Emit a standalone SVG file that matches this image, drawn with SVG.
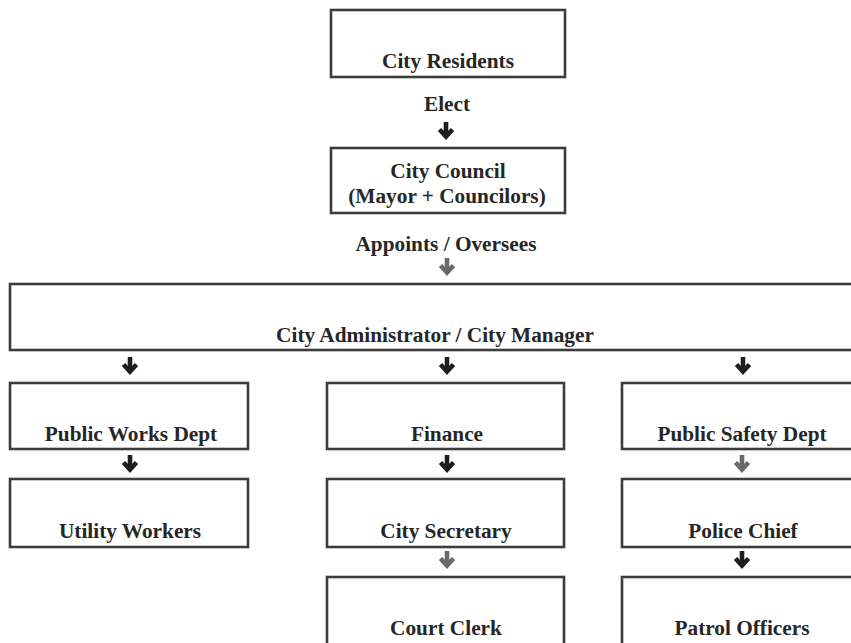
<svg xmlns="http://www.w3.org/2000/svg" xmlns:xlink="http://www.w3.org/1999/xlink" width="851" height="643" viewBox="0 0 851 643">
<style>
.box{fill:#fff;stroke:#3c3c3c;stroke-width:2.6}
.t{font-family:"Liberation Serif","Times New Roman",serif;font-weight:bold;font-size:21.3px;fill:#262626;text-anchor:middle}
.a{fill:none;stroke:#1e1e1e;stroke-width:4.6;stroke-linejoin:miter}
.g{stroke:#6a6a6a}
</style>
<defs>
<g id="arr"><path d="M0,-1 V13"/><path d="M-6.5,6.5 L0,13.5 L6.5,6.5"/></g>
</defs>
<rect width="851" height="643" fill="#fff"/>
<g id="residents"><rect class="box" x="331" y="10" width="234" height="67"/><text class="t" x="448" y="68">City Residents</text></g>
<g id="council"><rect class="box" x="331" y="148" width="234" height="65"/><text class="t" x="448" y="178">City Council</text><text class="t" x="447" y="203">(Mayor + Councilors)</text></g>
<g id="manager"><rect class="box" x="10" y="284" width="850" height="66"/><text class="t" x="435" y="342">City Administrator / City Manager</text></g>
<g id="publicworks"><rect class="box" x="10" y="383" width="238" height="66"/><text class="t" x="131" y="441">Public Works Dept</text></g>
<g id="finance"><rect class="box" x="327" y="383" width="237" height="66"/><text class="t" x="447" y="441">Finance</text></g>
<g id="publicsafety"><rect class="box" x="622" y="383" width="240" height="66"/><text class="t" x="742" y="441">Public Safety Dept</text></g>
<g id="utility"><rect class="box" x="10" y="479" width="238" height="68"/><text class="t" x="130" y="538">Utility Workers</text></g>
<g id="secretary"><rect class="box" x="327" y="479" width="237" height="68"/><text class="t" x="446" y="538">City Secretary</text></g>
<g id="police"><rect class="box" x="622" y="479" width="240" height="68"/><text class="t" x="743" y="538">Police Chief</text></g>
<g id="clerk"><rect class="box" x="327" y="577" width="237" height="70"/><text class="t" x="446" y="635">Court Clerk</text></g>
<g id="patrol"><rect class="box" x="622" y="577" width="240" height="70"/><text class="t" x="742" y="635">Patrol Officers</text></g>
<g id="connectors">
<text class="t" x="447" y="111">Elect</text>
<text class="t" x="446" y="251">Appoints / Oversees</text>
<use class="a" xlink:href="#arr" x="446" y="123"/>
<use class="a g" xlink:href="#arr" x="447" y="259"/>
<use class="a" xlink:href="#arr" x="130" y="358"/>
<use class="a" xlink:href="#arr" x="447" y="358"/>
<use class="a" xlink:href="#arr" x="743" y="358"/>
<use class="a" xlink:href="#arr" x="130" y="456"/>
<use class="a" xlink:href="#arr" x="447" y="456"/>
<use class="a g" xlink:href="#arr" x="742" y="456"/>
<use class="a g" xlink:href="#arr" x="447" y="552"/>
<use class="a" xlink:href="#arr" x="742" y="552"/>
</g>
</svg>
